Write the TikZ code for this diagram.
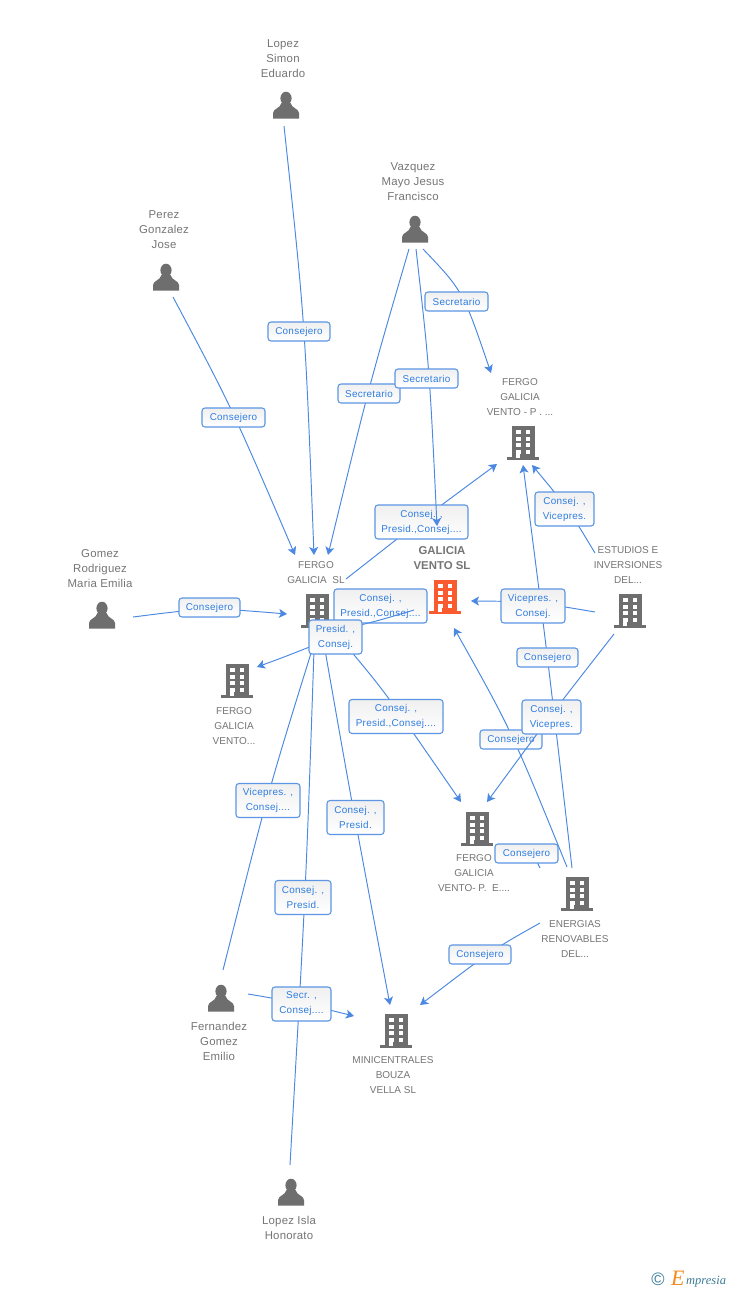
\documentclass[tikz,border=0pt]{standalone}
\usepackage{fontspec}
\setmainfont{Liberation Sans}
\newfontfamily\logofont{Liberation Serif}
\usetikzlibrary{arrows.meta,calc}
\definecolor{linkblue}{HTML}{4A88E2}
\definecolor{lbltext}{HTML}{2F7DE0}
\definecolor{lblborder}{HTML}{5C96E4}
\definecolor{icongrey}{HTML}{6E6E6E}
\definecolor{txtgrey}{HTML}{757575}
\definecolor{centreorange}{HTML}{FA5B2E}
\definecolor{logoteal}{HTML}{3A7C97}
\definecolor{logoorange}{HTML}{F58A1F}
\tikzset{
  link/.style={draw=linkblue,line width=0.95pt},
  arrowed/.style={link,-{Stealth[length=8pt,width=9pt,inset=2pt]}},
  lbl/.style={draw=lblborder,line width=1.1pt,rounded corners=3pt,top color=white!94!black,bottom color=white,
    inner sep=0pt,align=center,text=lbltext,font=\fontsize{9.9}{15}\selectfont\addfontfeature{LetterSpace=3}},
  onebox/.style={lbl,minimum height=19pt},
  twobox/.style={lbl,minimum height=34pt},
  entname/.style={text=txtgrey,align=center,inner sep=0pt,font=\fontsize{10}{15}\selectfont},
  pername/.style={text=txtgrey,align=center,inner sep=0pt,font=\fontsize{11.4}{15}\selectfont\addfontfeature{LetterSpace=2}},
  person/.pic={
    \fill[icongrey] (0,-6.7) ellipse [x radius=5.6,y radius=6.6];
    \fill[icongrey] (-13,13.5) -- (-13,8) .. controls (-12.5,3.5) and (-6,3.5) .. (-4.5,-2) -- (4.5,-2) .. controls (6,3.5) and (12.5,3.5) .. (13,8) -- (13,13.5) -- cycle;
  },
  building/.pic={
    \fill[pic actions] (-11.5,-17) rectangle (11.5,15);
    \fill[pic actions] (-16,14) rectangle (16,17);
    \foreach \yy in {-13,-6,0,7}{
      \fill[white] (-7,\yy) rectangle (-2.5,\yy+4);
      \fill[white] (2.5,\yy) rectangle (7,\yy+4);
    }
    \fill[white] (-7,7) rectangle (-3,15);
  },
}
% id, start, middle of the curve, end, style
\newcommand{\conn}[5]{%
  \coordinate (#1-a) at (#2);
  \coordinate (#1-m) at (#3);
  \coordinate (#1-b) at (#4);
  \draw[#5] (#1-a) .. controls ($2*(#1-m)-0.5*(#1-a)-0.5*(#1-b)$) .. (#1-b);
}
\begin{document}
\begin{tikzpicture}[x=1pt,y=-1pt]
\useasboundingbox (0,0) rectangle (728,1290);
\fill[white] (0,0) rectangle (728,1290);

% entities
\node[pername] (lopezsimon) at (283,58.5) {Lopez\\Simon\\Eduardo};
\node[pername] (vazquez) at (413,181.5) {Vazquez\\Mayo Jesus\\Francisco};
\node[pername] (perez) at (164,229.5) {Perez\\Gonzalez\\Jose};
\node[pername] (gomez) at (100,568.5) {Gomez\\Rodriguez\\Maria Emilia};
\node[entname] (ventop) at (520,397.5) {FERGO\\GALICIA\\VENTO - P . ...};
\node[entname] (estudios) at (628,565.5) {ESTUDIOS E\\INVERSIONES\\DEL...};
\node[entname] (fergosl) at (316,573) {FERGO\\GALICIA\ \ SL};
\node[entname,font=\fontsize{11.4}{15}\selectfont\bfseries] (centre) at (442,550.5) {FERGO\\GALICIA\\VENTO SL};
\node[entname] (vento) at (234,726.5) {FERGO\\GALICIA\\VENTO...};
\node[entname] (ventope) at (474,873.5) {FERGO\\GALICIA\\VENTO- P.\ \ E....};
\node[entname] (energias) at (575,938.5) {ENERGIAS\\RENOVABLES\\DEL...};
\node[entname] (mini) at (393,1075.5) {MINICENTRALES\\BOUZA\\VELLA SL};
\node[pername] (fernandez) at (219,1041.5) {Fernandez\\Gomez\\Emilio};
\node[pername] (honorato) at (289,1228) {Lopez Isla\\Honorato};

\pic at (286,105) {person};
\pic at (415,229) {person};
\pic at (166,277) {person};
\pic at (102,615) {person};
\pic at (221,998) {person};
\pic at (291,1192) {person};
\pic[fill=icongrey] at (317,611) {building};
\pic[fill=centreorange] at (445,597) {building};
\pic[fill=icongrey] at (237,681) {building};
\pic[fill=icongrey] at (523,443) {building};
\pic[fill=icongrey] at (630,611) {building};
\pic[fill=icongrey] at (477,829) {building};
\pic[fill=icongrey] at (577,894) {building};
\pic[fill=icongrey] at (396,1031) {building};

% connectors and their labels, in painting order
\conn{e1}{284,126}{302,331}{314,555}{arrowed}
\node[onebox,minimum width=62pt] (l1) at (299,331.5) {Consejero};
\conn{e2}{173,297}{233,417}{295,555}{arrowed}
\node[onebox,minimum width=63pt] (l2) at (233.5,417.5) {Consejero};
\conn{e3}{409,249}{369,393}{328,555}{arrowed}
\node[onebox,minimum width=62pt] (l3) at (369,393.5) {Secretario};
\conn{e5}{423,249}{460,301}{491,373}{arrowed}
\node[onebox,minimum width=63pt] (l5) at (456.5,301.5) {Secretario};
\conn{e6}{133,617}{209,611.5}{287,614}{arrowed}
\node[onebox,minimum width=61pt] (l6) at (209.5,607.5) {Consejero};
\conn{e7}{346,579}{421,521}{497,464}{arrowed}
\node[twobox,minimum width=93pt] (l7) at (421.5,522) {Consej. ,\\Presid.,Consej....};
\conn{e4}{416,249}{428,378}{437,526}{arrowed}
\node[onebox,minimum width=63pt] (l4) at (426.5,378.5) {Secretario};
\conn{e16}{595,553}{566,509}{532,465}{arrowed}
\node[twobox,minimum width=59pt] (l16) at (564.5,509) {Consej. ,\\Vicepres.};
\conn{e18}{572,868}{547,657}{523,465}{arrowed}
\node[onebox,minimum width=61pt] (l18) at (547.5,657.5) {Consejero};
\conn{e15}{595,612}{533,604}{471,601}{arrowed}
\node[twobox,minimum width=64pt] (l15) at (533,606) {Vicepres. ,\\Consej.};
\conn{e19}{567,867}{511,739}{454,628}{arrowed}
\node[onebox,minimum width=62pt] (l19) at (511,739.5) {Consejero};
\conn{e17}{614,634}{551,716}{487,802}{arrowed}
\node[twobox,minimum width=59pt] (l17) at (551.5,717) {Consej. ,\\Vicepres.};
\conn{e20}{540,868}{530,856}{515,850}{link}
\node[onebox,minimum width=63pt] (l20) at (526.5,853.5) {Consejero};
\conn{e21}{540,923}{486,957}{420,1005}{arrowed}
\node[onebox,minimum width=62pt] (l21) at (480,954.5) {Consejero};
\conn{e10}{350,650}{396,710}{461,802}{arrowed}
\node[twobox,minimum width=94pt] (l10) at (396,716.5) {Consej. ,\\Presid.,Consej....};
\conn{e12}{223,970}{268,800}{312,650}{link}
\node[twobox,minimum width=64pt] (l12) at (268,800.5) {Vicepres. ,\\Consej....};
\conn{e11}{325,650}{355,817}{390,1005}{arrowed}
\node[twobox,minimum width=57pt] (l11) at (355.5,817.5) {Consej. ,\\Presid.};
\conn{e13}{290,1165}{304,897}{314,650}{link}
\node[twobox,minimum width=56pt] (l13) at (303,897.5) {Consej. ,\\Presid.};
\conn{e14}{248,994}{301,1004}{354,1016}{arrowed}
\node[twobox,minimum width=59pt] (l14) at (301.5,1004) {Secr. ,\\Consej....};
\node[twobox,minimum width=93pt] (l8) at (380.5,606) {Consej. ,\\Presid.,Consej....};
\conn{e8}{335,631}{375,621}{414,610}{link}
\conn{e9}{312,646}{285,656.5}{257,667}{arrowed}
\node[twobox,minimum width=53pt] (l9) at (335.5,637) {Presid. ,\\Consej.};

% logo
\node[inner sep=0pt,text=logoteal,font=\fontsize{18}{18}\selectfont] (copyr) at (658,1279) {©};
\node[inner sep=0pt,anchor=base west,text=logoorange,font=\logofont\itshape\fontsize{22}{22}\selectfont] (logoe) at (671,1285) {E};
\node[inner sep=0pt,anchor=base west,text=logoteal,font=\logofont\itshape\fontsize{12.5}{13}\selectfont] (logot) at (686,1284) {mpresia};
\end{tikzpicture}
\end{document}
